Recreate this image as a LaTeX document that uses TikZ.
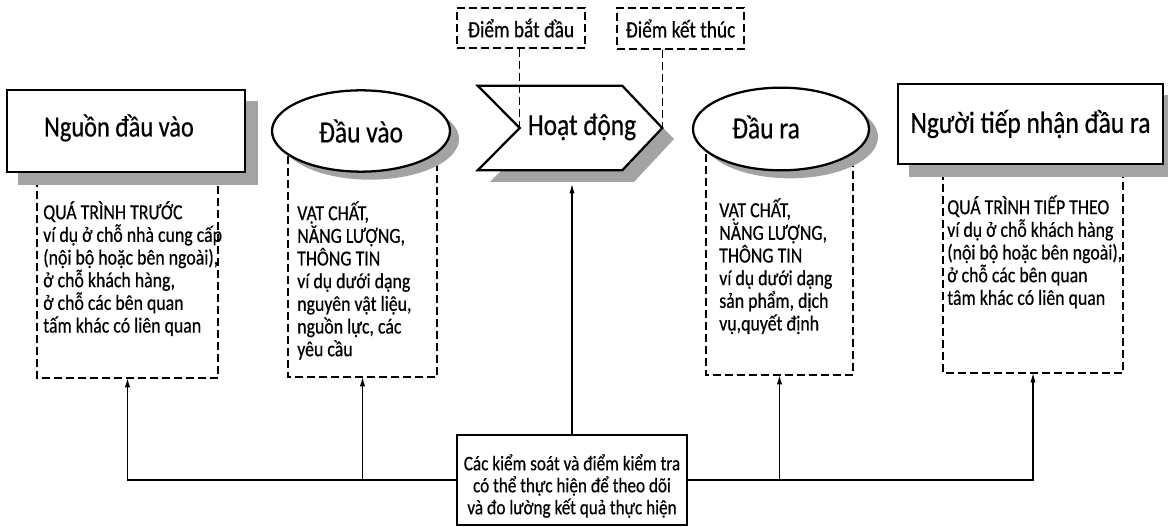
\documentclass[tikz,border=0pt]{standalone}
\usepackage{fontspec}
\newfontfamily\cf[FakeStretch=0.83,FakeBold=0.5]{Carlito}
\usetikzlibrary{shapes.geometric,arrows.meta,calc}
\pgfdeclarelayer{dashl}
\pgfdeclarelayer{shadl}
\pgfsetlayers{dashl,shadl,main}
\begin{document}
\begin{tikzpicture}[x=0.75pt,y=-0.75pt,
  bigfont/.style={font=\fontsize{23}{27}\selectfont\cf},
  solidbox/.style={draw, line width=2pt, fill=white, inner sep=0pt, bigfont},
  ellbox/.style={ellipse, draw, line width=1.7pt, fill=white, inner sep=0pt, bigfont},
  smallbox/.style={draw, line width=0.9pt, dash pattern=on 6pt off 3pt, fill=white, inner sep=0pt, font=\fontsize{17.5}{20}\selectfont\cf},
  dashline/.style={line width=0.9pt, dash pattern=on 6pt off 3pt},
  body/.style={anchor=north west, inner sep=0pt, align=left, font=\fontsize{16.1}{17}\selectfont\cf},
  conn/.style={line width=0.9pt},
  arr/.style={conn, -{Latex[length=7pt,width=4pt]}},
  shadowc/.style={fill=black!36, draw=none}
]
\useasboundingbox (0,0) rectangle (1168,527);

% main shapes
\node[solidbox, minimum width=178.5pt, minimum height=61.5pt] (src) at (126,131) {};
\node[font=\fontsize{22}{26}\selectfont\cf, inner sep=0pt] (srcl) at (119,128) {Nguồn đầu vào};
\node[ellbox, minimum width=133.5pt, minimum height=61pt] (inp) at (361,131) {Đầu vào};
\node[draw=none, minimum width=138pt, minimum height=63pt, inner sep=0pt] (act) at (570,128) {};
\coordinate (notch) at ($(act.west)+(42,0)$);
\draw[line width=1.7pt, fill=white, line join=miter] (act.north west) -- ($(act.north east)+(-40,0)$) -- (act.east) -- ($(act.south east)+(-40,0)$) -- (act.south west) -- (notch) -- cycle;
\node[bigfont, inner sep=0pt] (actl) at (582,127) {Hoạt động};
\node[ellbox, minimum width=132pt, minimum height=62pt] (out) at (781,129) {};
\node[bigfont, inner sep=0pt] (outl) at (766,127) {Đầu ra};
\node[solidbox, minimum width=198.75pt, minimum height=60pt] (rcv) at (1030.5,124) {Người tiếp nhận đầu ra};

\node[smallbox, minimum width=96pt, minimum height=30pt] (start) at (521,28) {Điểm bắt đầu};
\node[smallbox, minimum width=95.25pt, minimum height=30.75pt] (end) at (680.5,28.5) {Điểm kết thúc};

\node[draw, line width=1.6pt, fill=white, minimum width=172.5pt, minimum height=67.5pt, inner sep=0pt] (ctrl) at (572,480) {};
\node[align=center, inner sep=0pt, font=\fontsize{15.5}{16.5}\selectfont\cf] (ctrll) at (572,486)
  {Các kiểm soát và điểm kiểm tra\\có thể thực hiện để theo dõi\\và đo lường kết quả thực hiện};

% shadows
\begin{pgfonlayer}{shadl}
\fill[shadowc] ($(src.north west)+(12,12)$) rectangle ($(src.south east)+(12,12)$);
\fill[shadowc] ($(rcv.north west)+(12,12)$) rectangle ($(rcv.south east)+(12,12)$);
\fill[shadowc] ($(inp.center)+(9,8)$) ellipse [x radius=66.75pt, y radius=30.5pt];
\fill[shadowc] ($(out.center)+(9,8)$) ellipse [x radius=66pt, y radius=31pt];
\fill[shadowc] (490,98) -- (634,98) -- (674,139) -- (634,182) -- (490,182) -- (532,139) -- cycle;
\end{pgfonlayer}

% dashed boxes
\coordinate (d1a) at (37,131);   \coordinate (d1b) at (218,378);
\coordinate (d2a) at (288,132);  \coordinate (d2b) at (437,377);
\coordinate (d3a) at (706,130);  \coordinate (d3b) at (853,375);
\coordinate (d4a) at (943,124);  \coordinate (d4b) at (1123,373);
\begin{pgfonlayer}{dashl}
\foreach \i in {1,2,3,4}{
  \draw[dashline] (d\i a) |- (d\i b) -- (d\i b |- d\i a);
}
\end{pgfonlayer}
\coordinate (d1s) at ($(d1a |- d1b)!0.5!(d1b)$);
\coordinate (d2s) at ($(d2a |- d2b)!0.5!(d2b)$);
\coordinate (d3s) at ($(d3a |- d3b)!0.5!(d3b)$);
\coordinate (d4s) at ($(d4a |- d4b)!0.5!(d4b)$);

% texts in dashed boxes
\node[body] (t1) at (43,201) {QUÁ TRÌNH TRƯỚC\\ví dụ ở chỗ nhà cung cấp\\(nội bộ hoặc bên ngoài),\\ở chỗ khách hàng,\\ở chỗ các bên quan\\tấm khác có liên quan};
\node[body] (t2) at (297,201) {VẬT CHẤT,\\NĂNG LƯỢNG,\\THÔNG TIN\\ví dụ dưới dạng\\nguyên vật liệu,\\nguồn lực, các\\yêu cầu};
\node[body] (t3) at (719,198) {VẬT CHẤT,\\NĂNG LƯỢNG,\\THÔNG TIN\\ví dụ dưới dạng\\sản phẩm, dịch\\vụ,quyết định};
\node[body] (t4) at (947,195) {QUÁ TRÌNH TIẾP THEO\\ví dụ ở chỗ khách hàng\\(nội bộ hoặc bên ngoài),\\ở chỗ các bên quan\\tâm khác có liên quan};

% dashed connectors from start/end
\draw[dashline] (notch |- start.south) -- (notch);
\draw[dashline] (act.east |- end.south) -- (act.east);

% control connectors
\coordinate (acttip) at (572,184);
\draw[arr] (ctrl.north) -- (acttip);
\draw[arr] (ctrl.west) -| (d1s);
\draw[arr] (d2s |- ctrl.west) -- (d2s);
\draw[arr] (ctrl.east) -| (d4s);
\draw[arr] (d3s |- ctrl.east) -- (d3s);
\end{tikzpicture}
\end{document}
